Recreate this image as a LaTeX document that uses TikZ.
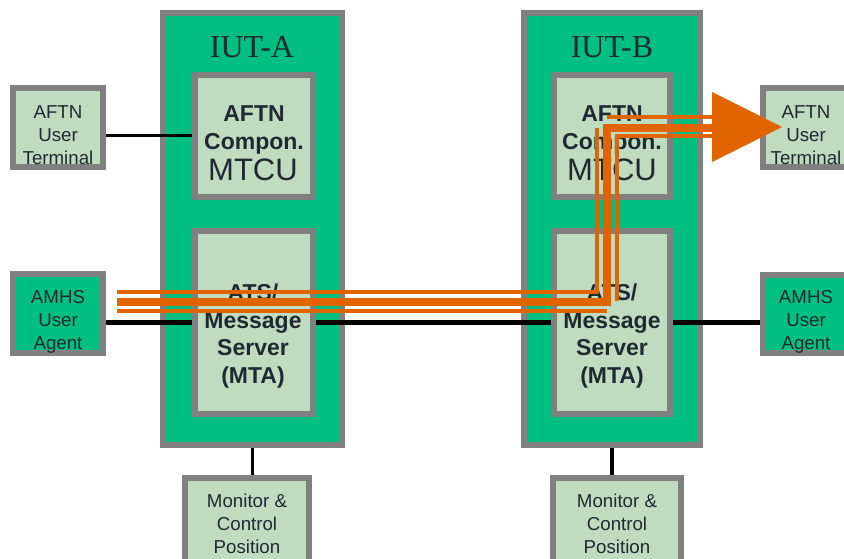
\documentclass[tikz,border=0pt]{standalone}
\usepackage{fontspec}
\setmainfont{Liberation Sans}
\newfontfamily\serifface{Liberation Serif}
\definecolor{boxgray}{RGB}{128,128,128}
\definecolor{outergreen}{RGB}{0,191,128}
\definecolor{palegreen}{RGB}{192,220,192}
\definecolor{flow}{RGB}{224,100,0}
\definecolor{ink}{RGB}{30,42,48}
\tikzset{
  x=1pt,y=-1pt,
  box/.style={draw=boxgray,line width=6pt,inner sep=0pt,outer sep=3pt,rectangle},
  iut/.style={box,fill=outergreen},
  pale/.style={box,fill=palegreen},
  agent/.style={box,fill=outergreen},
  small/.style={text=ink,align=center,inner sep=0pt,font=\fontsize{18.7}{22.7}\selectfont},
  strong/.style={text=ink,align=center,inner sep=0pt,font=\fontsize{23}{27.5}\selectfont\bfseries},
  titletext/.style={text=ink,inner sep=0pt,font=\fontsize{32}{34}\selectfont\serifface},
  mtcu/.style={text=ink,inner sep=0pt,font=\fontsize{31}{34}\selectfont},
  link/.style={draw=black,line width=5pt},
  thinlink/.style={draw=black,line width=3pt},
  flowthin/.style={draw=flow,line width=4pt},
  flowthick/.style={draw=flow,line width=8pt},
}
\newcommand{\boxat}[6]{\node[#1,minimum width=#5-#3,minimum height=#6-#4] (#2) at ({(#3+#5)/2},{(#4+#6)/2}) {};}
\begin{document}
\begin{tikzpicture}
\useasboundingbox (0,0) rectangle (844,559);
\clip (0,0) rectangle (844,559);
\boxat{iut}{iutA}{163}{13}{342}{445}
\boxat{iut}{iutB}{524}{13}{700}{445}
\boxat{pale}{aftnA}{195}{75}{313}{197}
\boxat{pale}{servA}{195}{231}{313}{414}
\boxat{pale}{aftnB}{554}{75}{670}{197}
\boxat{pale}{servB}{554}{231}{670}{414}
\boxat{pale}{termL}{13}{88}{103}{167}
\boxat{pale}{termR}{763}{88}{853}{167}
\boxat{agent}{amhsL}{13}{274}{103}{353}
\boxat{agent}{amhsR}{763}{275}{853}{353}
\boxat{pale}{monA}{185}{478}{309}{565}
\boxat{pale}{monB}{553}{478}{681}{565}
% connectors
\draw[thinlink] (termL.east |- aftnA.west) -- (aftnA.west);
\draw[link] (amhsL.east |- servA.west) -- (servA.west);
\draw[link] (servA.east) -- (servB.west);
\draw[link] (servB.east) -- (amhsR.west |- servB.east);
\draw[line width=3.5pt] (iutA.south) -- (iutA.south |- monA.north);
\draw[line width=3.5pt] (iutB.south) -- (iutB.south |- monB.north);
% texts
\node[titletext] (tA) at (252,47) {IUT-A};
\node[titletext] (tB) at (612,47) {IUT-B};
\node[strong] (cA) at (254,130) {AFTN\\Compon.};
\node[mtcu] (mA) at (253,170) {MTCU};
\node[strong] (cB) at (612,130) {AFTN\\Compon.};
\node[mtcu] (mB) at (612,170) {MTCU};
\node[strong] (sA) at (253,336) {ATS/\\Message\\Server\\(MTA)};
\node[strong] (sB) at (612,336) {ATS/\\Message\\Server\\(MTA)};
\node[small] (xL) at (58,135) {AFTN\\User\\Terminal};
\node[small] (xR) at (806,135) {AFTN\\User\\Terminal};
\node[small] (yL) at (58,322) {AMHS\\User\\Agent};
\node[small] (yR) at (806,322) {AMHS\\User\\Agent};
\node[small] (zA) at (247,524) {Monitor \&\\Control\\Position};
\node[small] (zB) at (617,524) {Monitor \&\\Control\\Position};
% flow
\coordinate (f1) at (117,292);
\coordinate (f1b) at (597,292);
\coordinate (f1c) at (597,128);
\coordinate (f2) at (117,302);
\coordinate (f2b) at (607,302);
\coordinate (f2c) at (607,128);
\coordinate (f3) at (117,311);
\coordinate (f3b) at (607,311);
\coordinate (g1) at (607,117);
\coordinate (g3) at (617,136);
\coordinate (g3b) at (617,301);
\coordinate (hb) at (712,128);
\coordinate (ha) at (712,92);
\coordinate (hc) at (712,162);
\coordinate (tip) at (782,127);
\draw[flowthin] (f1) -- (f1b) -- (f1c);
\draw[flowthin] (f3) -- (f3b);
\draw[flowthin] (g1) -- (g1 -| hb);
\draw[flowthin] (g3b) -- (g3) -- (g3 -| hb);
\draw[flowthick] (f2) -- (f2b) -- (f2c) -- (hb);
\fill[flow] (ha) -- (tip) -- (hc) -- cycle;
\end{tikzpicture}
\end{document}
